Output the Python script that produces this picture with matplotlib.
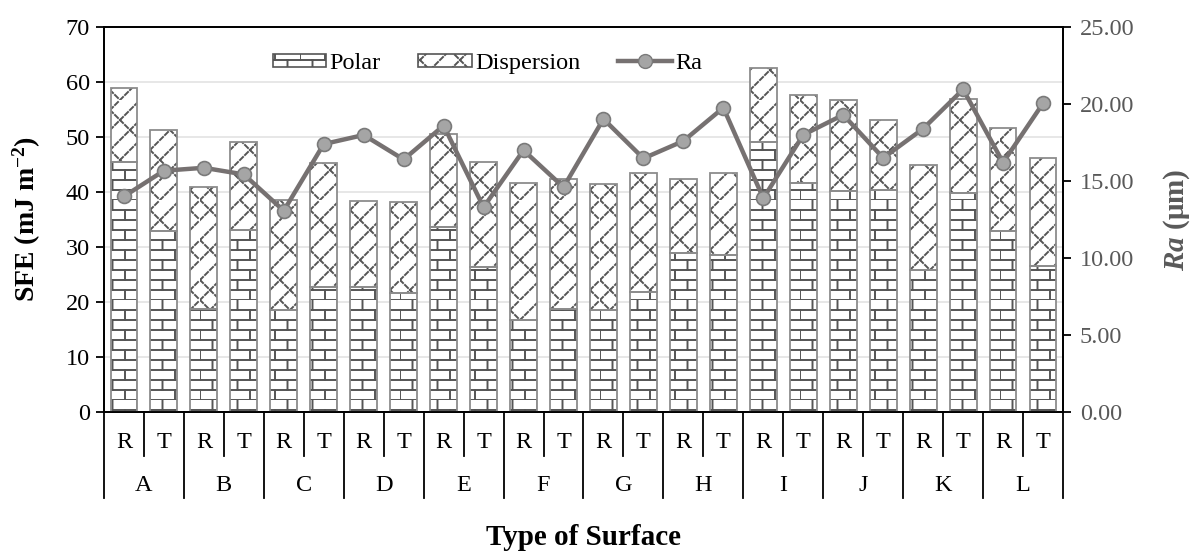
import numpy as np
import matplotlib
matplotlib.use("Agg")
import matplotlib.pyplot as plt
import matplotlib.hatch as mhatch
from matplotlib.path import Path
from matplotlib.patches import Patch
from matplotlib.lines import Line2D

# data
groups = ["A", "B", "C", "D", "E", "F", "G", "H", "I", "J", "K", "L"]
surfaces = ["R", "T"]
polar = [45.5, 33.0, 18.7, 33.1, 18.5, 22.7, 22.8, 21.6, 33.6, 26.3, 16.7, 18.7,
         18.5, 21.8, 29.0, 28.5, 49.1, 41.7, 40.1, 40.4, 25.9, 39.8, 32.9, 26.6]
dispersion = [13.5, 18.3, 22.3, 16.0, 20.0, 22.6, 15.6, 16.6, 16.9, 19.1, 25.0, 23.6,
              22.9, 21.7, 13.4, 15.0, 13.4, 15.9, 16.6, 12.7, 19.1, 17.1, 18.7, 19.6]
ra = [14.0, 15.67, 15.86, 15.43, 13.07, 17.4, 17.99, 16.4, 18.6, 13.3, 17.0, 14.6,
      19.03, 16.47, 17.6, 19.76, 13.88, 18.0, 19.3, 16.5, 18.4, 20.95, 16.2, 20.05]

plt.rcParams["font.family"] = ["Liberation Serif", "DejaVu Serif"]
plt.rcParams["mathtext.fontset"] = "custom"
plt.rcParams["mathtext.rm"] = "Liberation Serif:bold"
plt.rcParams["mathtext.it"] = "Liberation Serif:italic:bold"
plt.rcParams["mathtext.bf"] = "Liberation Serif:bold"
plt.rcParams["hatch.linewidth"] = 1.4


# custom hatch patterns (brick for Polar, dotted zigzag for Dispersion)
def brick_path(rows=10, bricks=4):
    verts = []
    for k in range(rows):
        y0 = k / rows
        y1 = (k + 1) / rows
        verts += [(0, y0), (1, y0)]
        shift = 0.5 / bricks if k % 2 else 0.0
        for j in range(bricks):
            x = j / bricks + shift
            verts += [(x, y0), (x, y1)]
    codes = [Path.MOVETO, Path.LINETO] * (len(verts) // 2)
    return Path(np.array(verts, float), codes)


def dashed(p0, p1, n, on=0.6):
    out = []
    p0 = np.array(p0, float)
    p1 = np.array(p1, float)
    for i in range(n):
        a = p0 + (p1 - p0) * i / n
        b = p0 + (p1 - p0) * (i + on) / n
        out += [tuple(a), tuple(b)]
    return out


def zigzag_path(n=5):
    verts = []
    s = 1.0 / n
    # "/" dotted lines
    for k in range(-n, n):
        c = k * s
        x0, y0 = max(0, -c), max(0, c)
        x1, y1 = min(1, 1 - c), min(1, 1 + c)
        if x1 - x0 <= 1e-9:
            continue
        m = max(1, int(round((x1 - x0) / s * 4)))
        verts += dashed((x0, y0), (x1, y1), m)
    # short "\" dotted pieces
    for i in range(n):
        for j in range(n):
            if (i + j) % 2:
                continue
            x0, y0 = i * s, (j + 1) * s
            verts += dashed((x0, y0), (x0 + s, y0 - s), 4)
    codes = [Path.MOVETO, Path.LINETO] * (len(verts) // 2)
    return Path(np.array(verts, float), codes)


CUSTOM_HATCH = {"++++": brick_path(), "xxxx": zigzag_path()}
_orig_get_path = mhatch.get_path


def _get_path(pattern, density=6):
    if pattern in CUSTOM_HATCH:
        return CUSTOM_HATCH[pattern]
    return _orig_get_path(pattern, density)


mhatch.get_path = _get_path

HATCH_COL = "#555555"
EDGE_COL = "#8c8c8c"
LINE_COL = "#767171"
RIGHT_COL = "#595959"
FS = 17.5
TFS = 21

fig = plt.figure(figsize=(11.92, 5.52), dpi=100)
ax = fig.add_axes([0.0872, 0.2536, 0.8046, 0.6974])
ax2 = ax.twinx()

x = np.arange(len(polar))
w = 0.67
ax.bar(x, polar, w, color="white", edgecolor=HATCH_COL, hatch="++++", lw=0, zorder=2)
ax.bar(x, polar, w, fill=False, edgecolor=EDGE_COL, lw=1.3, zorder=3)
ax.bar(x, dispersion, w, bottom=polar, color="white", edgecolor=HATCH_COL,
       hatch="xxxx", lw=0, zorder=2)
ax.bar(x, dispersion, w, bottom=polar, fill=False, edgecolor=EDGE_COL, lw=1.3, zorder=3)

ax2.plot(x, ra, color=LINE_COL, lw=3.2, marker="o", ms=10,
         markerfacecolor="#a5a5a5", markeredgecolor="#7a7a7a", mew=1.2, zorder=4)

ax.set_xlim(-0.5, len(polar) - 0.5)
ax.set_ylim(0, 70)
ax.set_yticks(np.arange(0, 71, 10))
ax2.set_ylim(0, 25)
ax2.set_yticks(np.arange(0, 26, 5))
ax2.set_yticklabels([f"{v:.2f}" for v in np.arange(0, 26, 5)])

ax.yaxis.grid(True, color="#e3e3e3", lw=1.2, zorder=0)
ax.set_axisbelow(True)
ax.set_xticks([])
ax.tick_params(axis="y", direction="out", length=6, width=1.3, labelsize=FS,
               colors="black", pad=4)
ax2.tick_params(axis="y", direction="out", length=6, width=1.3, labelsize=FS,
                labelcolor=RIGHT_COL, color="black", pad=6)
for sp in ax.spines.values():
    sp.set_linewidth(1.3)
for sp in ax2.spines.values():
    sp.set_linewidth(1.3)

# two level category axis
tr = ax.get_xaxis_transform()
for i in range(len(polar)):
    ax.text(x[i], -0.078, surfaces[i % 2], transform=tr, ha="center", va="center",
            fontsize=FS)
for i in range(len(polar) + 1):
    y_end = -0.223 if i % 2 == 0 else -0.114
    ax.plot([i - 0.5, i - 0.5], [0, y_end], transform=tr, color="black", lw=1.3,
            clip_on=False)
for g, name in enumerate(groups):
    ax.text(2 * g + 0.5, -0.19, name, transform=tr, ha="center", va="center",
            fontsize=FS)

ax.text(0.5, -0.327, "Type of Surface", transform=ax.transAxes, ha="center",
        va="center", fontsize=TFS, fontweight="bold")
ax.set_ylabel(r"SFE (mJ m$^{\mathregular{-2}}$)", fontsize=20, fontweight="bold")
ax.yaxis.set_label_coords(-0.064, 0.5)
ax2.set_ylabel("$Ra$ (μm)", fontsize=TFS, fontweight="bold", color=RIGHT_COL)
ax2.yaxis.set_label_coords(1.103, 0.5)

handles = [
    Patch(facecolor="white", edgecolor=HATCH_COL, hatch="++++", lw=1.2),
    Patch(facecolor="white", edgecolor=HATCH_COL, hatch="xxxx", lw=1.2),
    Line2D([], [], color=LINE_COL, lw=3.2, marker="o", ms=10,
           markerfacecolor="#a5a5a5", markeredgecolor="#7a7a7a"),
]
ax2.legend(handles, ["Polar", "Dispersion", "Ra"], loc="center", ncol=3,
           bbox_to_anchor=(0.40, 0.905), frameon=False, fontsize=FS,
           handlelength=2.2, handleheight=0.5, handletextpad=0.15,
           columnspacing=1.55)

fig.savefig("out.png", dpi=100)
